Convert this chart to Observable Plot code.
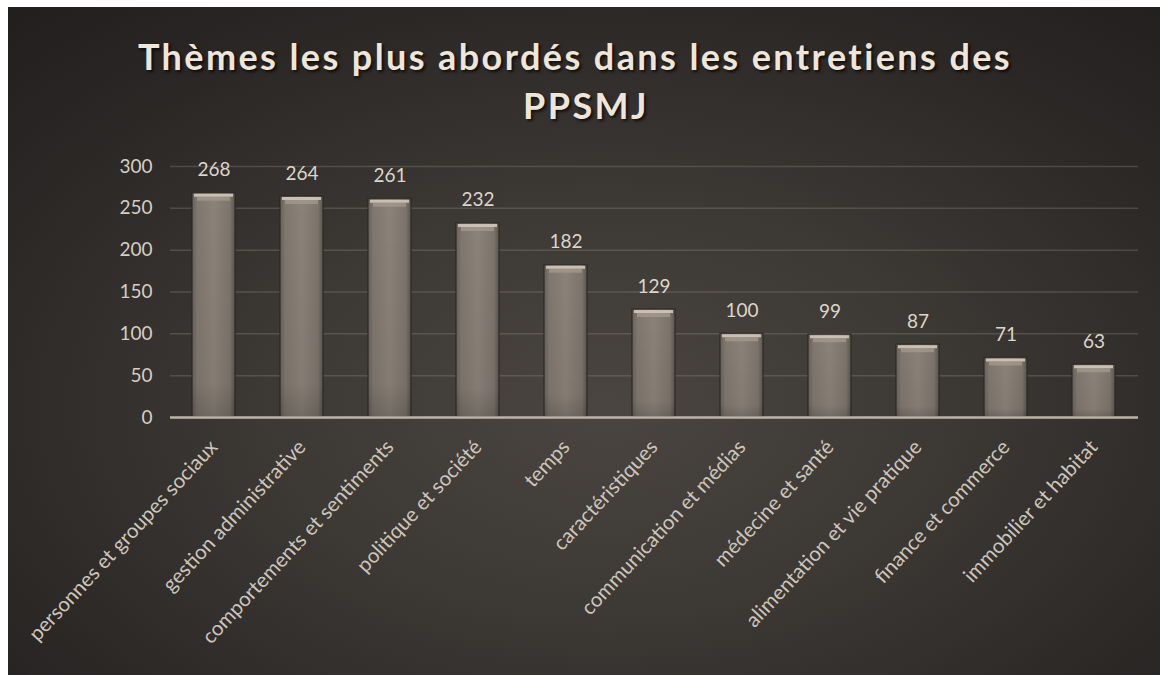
<!DOCTYPE html>
<html>
<head>
<meta charset="utf-8">
<script src="https://cdn.jsdelivr.net/npm/d3@7"></script>
<script src="https://cdn.jsdelivr.net/npm/@observablehq/plot@0.6"></script>
<style>
  html, body { margin: 0; padding: 0; background: #ffffff; }
  body { width: 1165px; height: 675px; position: relative; overflow: hidden; }
  #panel {
    position: absolute; left: 8px; top: 7px; width: 1152px; height: 668px;
    background: radial-gradient(ellipse 75% 80% at 52% 60%, #4a4540 0%, #3c3834 40%, #2b2826 75%, #221f1e 100%);
  }
  #title {
    height: 140px; box-sizing: border-box; padding-top: 25px;
    text-align: center; font-family: Lato, "Open Sans", sans-serif; font-weight: bold;
    font-size: 36px; line-height: 49px; letter-spacing: 2.4px; color: #efe5d8;
    text-shadow: 2px 2px 3px rgba(0,0,0,0.7);
  }
  #title .l1 { display: block; position: relative; left: -9px; }
  #title .l2 { display: block; position: relative; left: 2px; }
  #chart svg { display: block; }
</style>
</head>
<body>
<div id="panel">
  <div id="title"><span class="l1">Thèmes les plus abordés dans les entretiens des</span><span class="l2">PPSMJ</span></div>
  <div id="chart"></div>
</div>
<script>
const themes = [
  "personnes et groupes sociaux",
  "gestion administrative",
  "comportements et sentiments",
  "politique et société",
  "temps",
  "caractéristiques",
  "communication et médias",
  "médecine et santé",
  "alimentation et vie pratique",
  "finance et commerce",
  "immobilier et habitat"
];
const counts = [268, 264, 261, 232, 182, 129, 100, 99, 87, 71, 63];
const yTicks = [0, 50, 100, 150, 200, 250, 300];

const data = themes.map((t, i) => ({theme: t, count: counts[i]}));

const chart = Plot.plot({
  width: 1152,
  height: 528,
  marginTop: 19,
  marginBottom: 258,
  marginLeft: 162,
  marginRight: 22,
  style: {background: "transparent", fontFamily: "Lato, 'Open Sans', sans-serif", color: "#d6cec4", overflow: "visible"},
  x: {domain: themes, paddingInner: 0.51, paddingOuter: 0.255, label: null},
  y: {domain: [0, 300], label: null},
  marks: [
    Plot.gridY(yTicks, {stroke: "#8a837a", strokeOpacity: 0.35, strokeWidth: 1.5}),
    Plot.barY(data, {x: "theme", y: "count", fill: "url(#barGrad)", stroke: "#2a2724", strokeWidth: 1.5, strokeOpacity: 0.7}),
    Plot.barY(data, {x: "theme", y1: 0, y2: "count", fill: "url(#barShade)"}),
    Plot.tickY(data, {x: "theme", y: "count", stroke: "#d2c7b8", strokeWidth: 3, dy: 2, insetLeft: 2, insetRight: 2, strokeOpacity: 0.9}),
    Plot.tickY(data, {x: "theme", y: "count", stroke: "#a69c8f", strokeWidth: 4, dy: 5.5, insetLeft: 5, insetRight: 5, strokeOpacity: 0.7}),
    Plot.ruleY([0], {stroke: "#bbb3a9", strokeWidth: 2.5}),
    Plot.text(data, {x: "theme", y: "count", text: d => String(d.count), dy: -17, lineAnchor: "bottom", fontSize: 19, fill: "#ddd5ca"}),
    Plot.axisY({ticks: yTicks, tickSize: 0, tickPadding: 18, fontSize: 19, fill: "#d6cec4", label: null}),
    Plot.axisX({tickRotate: -47, tickSize: 0, tickPadding: 26, fontSize: 20.5, fill: "#cdc5bb", label: null})
  ]
});

const ns = "http://www.w3.org/2000/svg";
const defs = document.createElementNS(ns, "defs");
defs.innerHTML = `
  <linearGradient id="barGrad" x1="0" y1="0" x2="1" y2="0">
    <stop offset="0" stop-color="#66605a"/>
    <stop offset="0.12" stop-color="#7f776e"/>
    <stop offset="0.5" stop-color="#8b8379"/>
    <stop offset="0.88" stop-color="#7d756c"/>
    <stop offset="1" stop-color="#5a544e"/>
  </linearGradient>
  <linearGradient id="barShade" x1="0" y1="0" x2="0" y2="1">
    <stop offset="0" stop-color="#000" stop-opacity="0"/>
    <stop offset="0.85" stop-color="#000" stop-opacity="0.05"/>
    <stop offset="1" stop-color="#000" stop-opacity="0.18"/>
  </linearGradient>`;
chart.insertBefore(defs, chart.firstChild);
document.getElementById("chart").appendChild(chart);
</script>
</body>
</html>
